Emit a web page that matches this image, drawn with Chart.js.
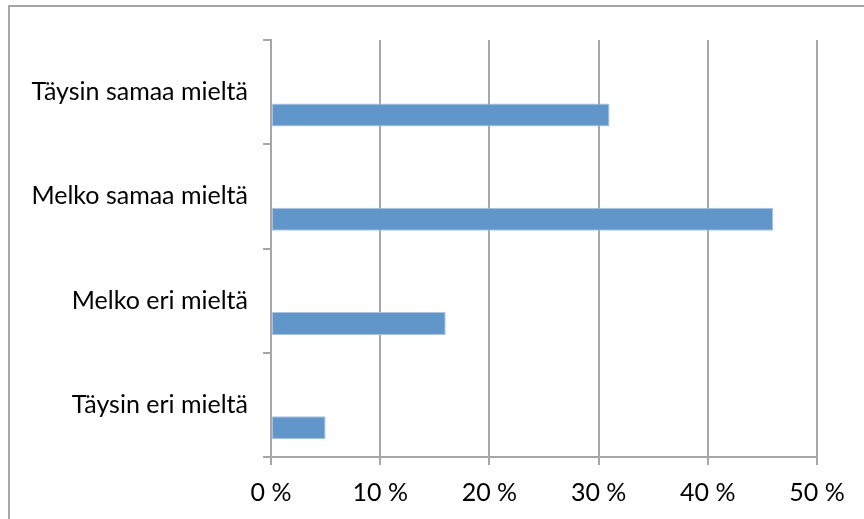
<!DOCTYPE html>
<html lang="fi">
<head>
  <meta charset="UTF-8">
  <title>Vastausjakauma</title>
  <script src="https://cdn.jsdelivr.net/npm/chart.js"></script>
  <style>
    html, body {
      margin: 0;
      padding: 0;
      background: #fff;
      overflow: hidden;
    }
    .frame {
      position: absolute;
      left: 8px;
      top: 5px;
      width: 1000px;
      height: 1000px;
      border-top: 2px solid #a6a6a6;
      border-left: 2px solid #a6a6a6;
    }
    .wrap {
      position: absolute;
      left: 0;
      top: 0;
      width: 864px;
      height: 519px;
    }
  </style>
</head>
<body>
  <div class="frame"></div>
  <div class="wrap">
    <canvas id="chart" width="864" height="519"></canvas>
  </div>

  <script>
    // vastausvaihtoehdot ja osuudet (%)
    const categories = ['Täysin samaa mieltä', 'Melko samaa mieltä', 'Melko eri mieltä', 'Täysin eri mieltä'];
    const shares = [31, 46, 16, 5];
    const xTicks = [0, 10, 20, 30, 40, 50];
    // tyhjä sarja, jotta palkki asettuu Excelin tapaan luokan alaosaan
    const emptySeries = categories.map(() => null);

    const gridColor = '#a6a6a6';
    const labelFont = { family: 'Lato', size: 25 };

    const ctx = document.getElementById('chart').getContext('2d');
    new Chart(ctx, {
      type: 'bar',
      data: {
        labels: categories,
        datasets: [
          {
            label: '',
            data: emptySeries,
            backgroundColor: '#6096c9'
          },
          {
            label: 'Osuus',
            data: shares,
            backgroundColor: '#6096c9',
            borderColor: '#a9c4e3',
            borderWidth: 1,
            borderSkipped: false
          }
        ]
      },
      options: {
        indexAxis: 'y',
        responsive: false,
        animation: false,
        layout: {
          padding: { top: 40, right: 47, left: 0, bottom: 0 }
        },
        datasets: {
          bar: { categoryPercentage: 0.88, barPercentage: 0.5 }
        },
        plugins: {
          legend: { display: false },
          tooltip: { enabled: false }
        },
        scales: {
          x: {
            min: xTicks[0],
            max: xTicks[xTicks.length - 1],
            afterBuildTicks: scale => {
              scale.ticks = xTicks.map(v => ({ value: v }));
            },
            afterFit: scale => { scale.height = 62; },
            grid: {
              color: gridColor,
              lineWidth: 2,
              tickLength: 8,
              drawOnChartArea: true
            },
            border: { color: gridColor, width: 2 },
            ticks: {
              color: '#000',
              font: labelFont,
              padding: 13,
              maxRotation: 0,
              callback: v => v + ' %'
            }
          },
          y: {
            afterFit: scale => { scale.width = 271; },
            grid: {
              color: gridColor,
              lineWidth: 2,
              tickLength: 8,
              drawOnChartArea: false,
              offset: true
            },
            border: { color: gridColor, width: 2 },
            ticks: {
              color: '#000',
              font: labelFont,
              padding: 15
            }
          }
        }
      }
    });
  </script>
</body>
</html>
